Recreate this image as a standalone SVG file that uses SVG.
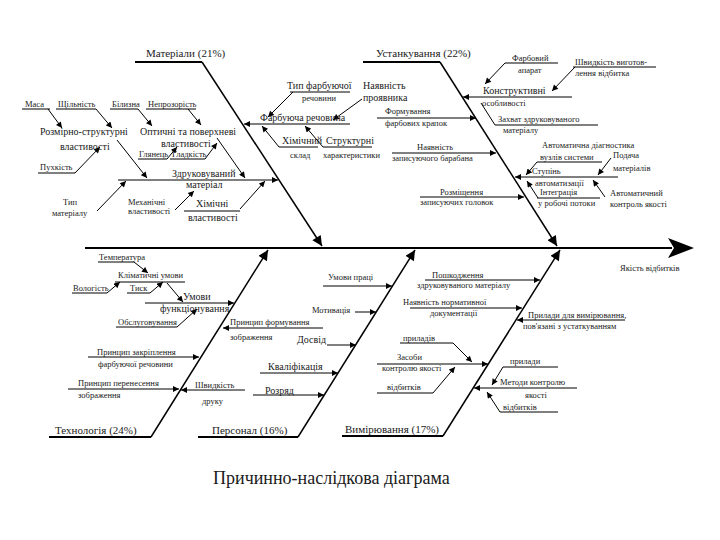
<svg xmlns="http://www.w3.org/2000/svg" width="720" height="540" viewBox="0 0 720 540" font-family="'Liberation Serif','Times New Roman',serif">
<style>
text{font-family:"Liberation Serif","Times New Roman",serif;fill:#1a1a1a}
.c{font-size:11px}
.m{font-size:10px}
.s{font-size:8.5px}
.t{font-size:18px}
.ln{stroke:#000;stroke-width:1;fill:none}
.cat{stroke:#000;stroke-width:2;fill:none}
.dg{stroke:#000;stroke-width:1.5;fill:none}
</style>
<defs>
<marker id="a" viewBox="0 0 10 10" refX="10" refY="5" markerWidth="7" markerHeight="6" orient="auto" markerUnits="userSpaceOnUse"><path d="M0,0 L10,5 L0,10 z" fill="#000"/></marker>
<marker id="b" viewBox="0 0 10 10" refX="10" refY="5" markerWidth="14" markerHeight="10" orient="auto" markerUnits="userSpaceOnUse"><path d="M0,0 L10,5 L0,10 z" fill="#000"/></marker>
</defs>
<rect width="720" height="540" fill="#fff"/>

<g id="connectors">
<line class="cat" x1="85" y1="248" x2="672" y2="248" stroke-width="2.5"/>
<polygon points="668,238 694,248 668,258 674,248" fill="#000"/>
<polyline class="cat" points="135,62 202,62"/>
<line class="dg" x1="202" y1="62" x2="322" y2="246" marker-end="url(#b)"/>
<polyline class="cat" points="363,62 440,62"/>
<line class="dg" x1="440" y1="62" x2="557" y2="246" marker-end="url(#b)"/>
<polyline class="cat" points="49,437 151,437"/>
<line class="dg" x1="151" y1="437" x2="268" y2="250" marker-end="url(#b)"/>
<polyline class="cat" points="198,437 298,437"/>
<line class="dg" x1="298" y1="437" x2="415" y2="250" marker-end="url(#b)"/>
<polyline class="cat" points="342,436 443,436"/>
<line class="dg" x1="443" y1="436" x2="560" y2="250" marker-end="url(#b)"/>

<line class="ln" x1="22" y1="109" x2="50" y2="109"/><line class="ln" x1="48" y1="109" x2="62" y2="128" marker-end="url(#a)"/>
<line class="ln" x1="56" y1="109" x2="96" y2="109"/><line class="ln" x1="96" y1="109" x2="112" y2="128" marker-end="url(#a)"/>
<line class="ln" x1="110" y1="109" x2="138" y2="109"/><line class="ln" x1="138" y1="109" x2="152" y2="126" marker-end="url(#a)"/>
<line class="ln" x1="146" y1="109" x2="196" y2="109"/><line class="ln" x1="188" y1="109" x2="201" y2="125" marker-end="url(#a)"/>
<line class="ln" x1="38" y1="173" x2="75" y2="173"/><line class="ln" x1="75" y1="173" x2="100" y2="147" marker-end="url(#a)"/>
<line class="ln" x1="117" y1="140" x2="147" y2="178" marker-end="url(#a)"/>
<line class="ln" x1="138" y1="159" x2="167" y2="159"/><line class="ln" x1="167" y1="159" x2="177" y2="147" marker-end="url(#a)"/>
<line class="ln" x1="170" y1="159" x2="205" y2="159"/><line class="ln" x1="205" y1="159" x2="217" y2="143" marker-end="url(#a)"/>
<line class="ln" x1="217" y1="138" x2="245" y2="178" marker-end="url(#a)"/>
<line class="ln" x1="118" y1="180" x2="278" y2="180" marker-end="url(#a)"/>
<line class="ln" x1="97" y1="211" x2="126" y2="181" marker-end="url(#a)"/>
<line class="ln" x1="175" y1="210" x2="194" y2="191" marker-end="url(#a)"/>
<line class="ln" x1="184" y1="211" x2="240" y2="211"/><line class="ln" x1="240" y1="209" x2="265" y2="181" marker-end="url(#a)"/>
<line class="ln" x1="290" y1="92" x2="350" y2="92"/><line class="ln" x1="293" y1="92" x2="268" y2="117" marker-end="url(#a)"/>
<line class="ln" x1="362" y1="99" x2="333" y2="120" marker-end="url(#a)"/>
<line class="ln" x1="350" y1="124" x2="244" y2="124" marker-end="url(#a)"/>
<line class="ln" x1="279" y1="147" x2="318" y2="147"/><line class="ln" x1="279" y1="147" x2="262" y2="126" marker-end="url(#a)"/>
<line class="ln" x1="323" y1="147" x2="372" y2="147"/><line class="ln" x1="323" y1="147" x2="305" y2="126" marker-end="url(#a)"/>

<line class="ln" x1="505" y1="63" x2="558" y2="63"/><line class="ln" x1="505" y1="63" x2="485" y2="84" marker-end="url(#a)"/>
<line class="ln" x1="573" y1="67" x2="656" y2="67"/><line class="ln" x1="575" y1="67" x2="552" y2="91" marker-end="url(#a)"/>
<line class="ln" x1="572" y1="97" x2="463" y2="97" marker-end="url(#a)"/>
<line class="ln" x1="377" y1="118" x2="476" y2="118" marker-end="url(#a)"/>
<line class="ln" x1="495" y1="125" x2="598" y2="125"/><line class="ln" x1="495" y1="125" x2="481" y2="103"/>
<line class="ln" x1="392" y1="153" x2="496" y2="153" marker-end="url(#a)"/>
<line class="ln" x1="420" y1="197" x2="524" y2="197" marker-end="url(#a)"/>
<line class="ln" x1="537" y1="162" x2="602" y2="162"/><line class="ln" x1="537" y1="162" x2="526" y2="175" marker-end="url(#a)"/>
<line class="ln" x1="618" y1="177" x2="515" y2="177" marker-end="url(#a)"/>
<line class="ln" x1="611" y1="158" x2="598" y2="175" marker-end="url(#a)"/>
<line class="ln" x1="537" y1="198" x2="600" y2="198"/><line class="ln" x1="538" y1="198" x2="527" y2="181" marker-end="url(#a)"/>
<line class="ln" x1="605" y1="197" x2="593" y2="180" marker-end="url(#a)"/>

<line class="ln" x1="98" y1="262" x2="134" y2="262"/><line class="ln" x1="134" y1="262" x2="148" y2="273" marker-end="url(#a)"/>
<line class="ln" x1="115" y1="282" x2="185" y2="282"/>
<line class="ln" x1="72" y1="293" x2="107" y2="293"/><line class="ln" x1="107" y1="293" x2="120" y2="282" marker-end="url(#a)"/>
<line class="ln" x1="127" y1="293" x2="150" y2="293"/><line class="ln" x1="150" y1="293" x2="163" y2="282" marker-end="url(#a)"/>
<line class="ln" x1="167" y1="283" x2="183" y2="302" marker-end="url(#a)"/>
<line class="ln" x1="145" y1="303" x2="234" y2="303" marker-end="url(#a)"/>
<line class="ln" x1="116" y1="327" x2="177" y2="327"/><line class="ln" x1="177" y1="327" x2="197" y2="309" marker-end="url(#a)"/>
<line class="ln" x1="323" y1="328" x2="223" y2="328" marker-end="url(#a)"/>
<line class="ln" x1="88" y1="357" x2="199" y2="357" marker-end="url(#a)"/>
<line class="ln" x1="68" y1="389" x2="179" y2="389" marker-end="url(#a)"/>
<line class="ln" x1="245" y1="390" x2="181" y2="390" marker-end="url(#a)"/>

<line class="ln" x1="323" y1="286" x2="392" y2="286" marker-end="url(#a)"/>
<line class="ln" x1="355" y1="312" x2="376" y2="312" marker-end="url(#a)"/>
<line class="ln" x1="327" y1="345" x2="356" y2="345" marker-end="url(#a)"/>
<line class="ln" x1="260" y1="373" x2="338" y2="373" marker-end="url(#a)"/>
<line class="ln" x1="253" y1="395" x2="324" y2="395" marker-end="url(#a)"/>

<line class="ln" x1="425" y1="280" x2="540" y2="280" marker-end="url(#a)"/>
<line class="ln" x1="410" y1="308" x2="522" y2="308" marker-end="url(#a)"/>
<line class="ln" x1="625" y1="320" x2="517" y2="320" marker-end="url(#a)"/>
<line class="ln" x1="400" y1="343" x2="453" y2="343"/><line class="ln" x1="453" y1="343" x2="472" y2="362" marker-end="url(#a)"/>
<line class="ln" x1="377" y1="364" x2="488" y2="364" marker-end="url(#a)"/>
<line class="ln" x1="377" y1="393" x2="433" y2="393"/><line class="ln" x1="433" y1="393" x2="455" y2="367" marker-end="url(#a)"/>
<line class="ln" x1="577" y1="388" x2="474" y2="388" marker-end="url(#a)"/>
<line class="ln" x1="503" y1="367" x2="558" y2="367"/><line class="ln" x1="503" y1="367" x2="492" y2="385" marker-end="url(#a)"/>
<line class="ln" x1="500" y1="412" x2="558" y2="412"/><line class="ln" x1="500" y1="412" x2="487" y2="392" marker-end="url(#a)"/>
</g>

<g id="effect"><text class="s" x="620" y="271" font-size="9.5">Якість відбитків</text></g>
<g id="cat-materials"><text class="c" x="146" y="57">Матеріали (21%)</text></g>
<g id="cat-equipment"><text class="c" x="376" y="57">Устанкування (22%)</text></g>
<g id="cat-technology"><text class="c" x="55" y="434">Технологія (24%)</text></g>
<g id="cat-personnel"><text class="c" x="212" y="434">Персонал (16%)</text></g>
<g id="cat-measurement"><text class="c" x="345" y="433">Вимірювання (17%)</text></g>

<g id="n-masa"><text class="s" x="25" y="107">Маса</text></g>
<g id="n-shchilnist"><text class="s" x="58" y="107">Щільність</text></g>
<g id="n-bilyzna"><text class="s" x="112" y="107">Білизна</text></g>
<g id="n-neprozorist"><text class="s" x="148" y="107">Непрозорість</text></g>
<g id="n-rozmirno"><text class="m" x="40" y="135">Розмірно-структурні</text><text class="m" x="60" y="150">властивості</text></g>
<g id="n-optychni"><text class="m" x="140" y="135">Оптичні та поверхневі</text><text class="m" x="161" y="147">властивості</text></g>
<g id="n-pukhkist"><text class="s" x="40" y="170">Пухкість</text></g>
<g id="n-hlyanets"><text class="s" x="139" y="157">Глянець</text></g>
<g id="n-hladkist"><text class="s" x="172" y="157">Гладкість</text></g>
<g id="n-zdrukov"><text class="m" x="172" y="177">Здруковуваний</text><text class="m" x="186" y="188">матеріал</text></g>
<g id="n-typ-mat"><text class="s" x="63" y="205">Тип</text><text class="s" x="52" y="216">матеріалу</text></g>
<g id="n-mekh"><text class="s" x="128" y="205">Механічні</text><text class="s" x="128" y="214">властивості</text></g>
<g id="n-khim-vl"><text class="m" x="196" y="207">Хімічні</text><text class="m" x="188" y="221">властивості</text></g>
<g id="n-typ-farb"><text class="m" x="287" y="89">Тип фарбуючої</text><text class="s" x="302" y="101">речовини</text></g>
<g id="n-proyavnyk"><text class="m" x="363" y="89">Наявність</text><text class="m" x="363" y="101">проявника</text></g>
<g id="n-farbuyucha"><text class="m" x="260" y="121">Фарбуюча речовина</text></g>
<g id="n-khim-sklad"><text class="m" x="282" y="144">Хімічний</text><text class="s" x="290" y="158">склад</text></g>
<g id="n-struktur"><text class="m" x="326" y="144">Структурні</text><text class="s" x="323" y="158">характеристики</text></g>

<g id="n-farb-aparat"><text class="s" x="512" y="61">Фарбовий</text><text class="s" x="518" y="73">апарат</text></g>
<g id="n-shvydkist"><text class="s" x="575" y="65">Швидкість виготов-</text><text class="s" x="575" y="76">лення відбитка</text></g>
<g id="n-konstr"><text class="m" x="483" y="94">Конструктивні</text><text class="s" x="482" y="106">особливості</text></g>
<g id="n-formuv"><text class="s" x="385" y="114">Формування</text><text class="s" x="385" y="126">фарбових крапок</text></g>
<g id="n-zakhvat"><text class="s" x="498" y="122">Захват здруковуваного</text><text class="s" x="503" y="133">матеріалу</text></g>
<g id="n-baraban"><text class="s" x="417" y="150">Наявність</text><text class="s" x="392" y="161">записуючого барабана</text></g>
<g id="n-holovky"><text class="s" x="440" y="195">Розміщення</text><text class="s" x="420" y="205">записуючих головок</text></g>
<g id="n-diagn"><text class="s" x="542" y="148">Автоматична діагностика</text><text class="s" x="540" y="160">вузлів системи</text></g>
<g id="n-stupin"><text class="s" x="532" y="174">Ступінь</text><text class="s" x="535" y="186">автоматизації</text></g>
<g id="n-podacha"><text class="s" x="613" y="158">Подача</text><text class="s" x="613" y="171">матеріалів</text></g>
<g id="n-intehr"><text class="s" x="540" y="195">Інтеграція</text><text class="s" x="538" y="206">у робочі потоки</text></g>
<g id="n-avtokontr"><text class="s" x="610" y="196">Автоматичний</text><text class="s" x="610" y="207">контроль якості</text></g>

<g id="n-temp"><text class="s" x="99" y="260">Температура</text></g>
<g id="n-klimat"><text class="s" x="118" y="278">Кліматичні умови</text></g>
<g id="n-volohist"><text class="s" x="73" y="291">Вологість</text></g>
<g id="n-tysk"><text class="s" x="130" y="291">Тиск</text></g>
<g id="n-umovy-f"><text class="m" x="183" y="300">Умови</text><text class="m" x="160" y="312">функціонування</text></g>
<g id="n-obsluh"><text class="s" x="118" y="325">Обслуговування</text></g>
<g id="n-pryntsyp-f"><text class="s" x="230" y="325">Принцип формування</text><text class="s" x="230" y="340">зображення</text></g>
<g id="n-zakripl"><text class="s" x="97" y="355">Принцип закріплення</text><text class="s" x="98" y="367">фарбуючої речовини</text></g>
<g id="n-perenes"><text class="s" x="78" y="386">Принцип перенесення</text><text class="s" x="78" y="398">зображення</text></g>
<g id="n-shvydk-druku"><text class="s" x="195" y="388">Швидкість</text><text class="s" x="202" y="404">друку</text></g>

<g id="n-umovy-pr"><text class="s" x="328" y="280">Умови праці</text></g>
<g id="n-motyv"><text class="s" x="312" y="313">Мотивація</text></g>
<g id="n-dosvid"><text class="m" x="297" y="343">Досвід</text></g>
<g id="n-kvalif"><text class="m" x="268" y="370">Кваліфікація</text></g>
<g id="n-rozryad"><text class="m" x="265" y="394">Розряд</text></g>

<g id="n-poshkodzh"><text class="s" x="432" y="278">Пошкодження</text><text class="s" x="417" y="288">здруковуваного матеріалу</text></g>
<g id="n-normat"><text class="s" x="403" y="305">Наявність нормативної</text><text class="s" x="430" y="316">документації</text></g>
<g id="n-prylady-vym"><text class="s" x="528" y="318">Прилади для вимірювання,</text><text class="s" x="523" y="329">пов'язані з устаткуванням</text></g>
<g id="n-pryladiv"><text class="s" x="403" y="341">приладів</text></g>
<g id="n-zasoby"><text class="s" x="397" y="360">Засоби</text><text class="s" x="382" y="371">контролю якості</text></g>
<g id="n-vidb1"><text class="s" x="387" y="390">відбитків</text></g>
<g id="n-metody"><text class="s" x="500" y="385">Методи контролю</text><text class="s" x="525" y="398">якості</text></g>
<g id="n-prylady2"><text class="s" x="510" y="364">прилади</text></g>
<g id="n-vidb2"><text class="s" x="503" y="410">відбитків</text></g>

<g id="title"><text class="t" x="213" y="484">Причинно-наслідкова діаграма</text></g>
</svg>
